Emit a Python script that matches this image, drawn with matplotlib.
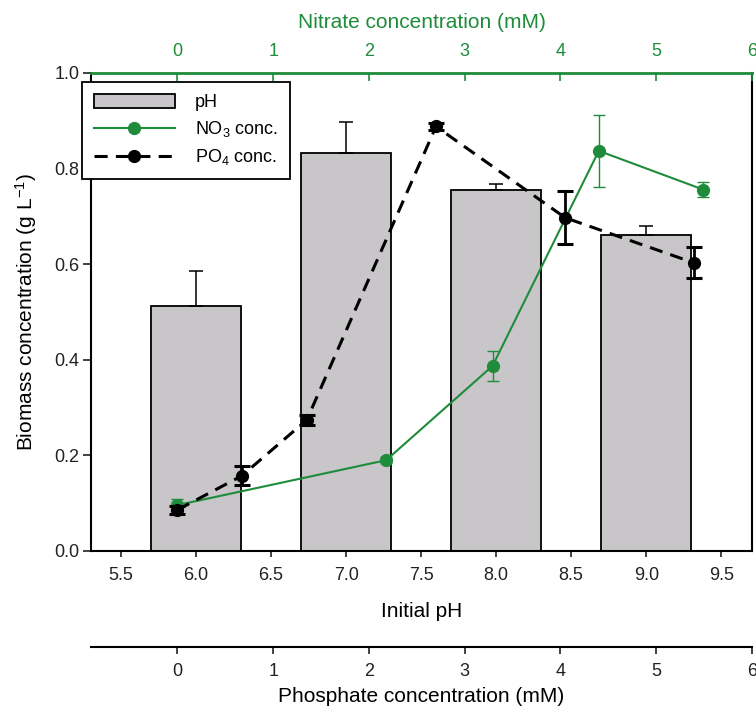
import numpy as np
import matplotlib
matplotlib.use('Agg')
import matplotlib.pyplot as plt
from matplotlib.patches import Patch
from matplotlib.lines import Line2D

plt.rcParams['font.family'] = ['Liberation Sans', 'DejaVu Sans']
plt.rcParams['mathtext.fontset'] = 'custom'
plt.rcParams['mathtext.rm'] = 'Liberation Sans'
plt.rcParams['mathtext.it'] = 'Liberation Sans'

## data
ph = [6.0, 7.0, 8.0, 9.0]
biomass_ph = [0.513, 0.832, 0.756, 0.660]
biomass_ph_err = [0.073, 0.066, 0.012, 0.019]

nitrate = [0.0, 2.18, 3.29, 4.40, 5.49]
biomass_no3 = [0.096, 0.190, 0.387, 0.837, 0.756]
biomass_no3_err = [0.012, 0.006, 0.031, 0.076, 0.015]

phosphate = [0.0, 0.67, 1.35, 2.70, 4.05, 5.39]
biomass_po4 = [0.086, 0.157, 0.274, 0.888, 0.697, 0.603]
biomass_po4_err = [0.009, 0.020, 0.010, 0.008, 0.055, 0.033]

green = '#1e8c3a'
grey = '#c8c6c8'
tick_fs = 13
label_fs = 15

fig = plt.figure(figsize=(7.56, 7.15), dpi=100)
ax = fig.add_axes([0.1204, 0.2294, 0.8743, 0.6686])

## pH bars
ax.bar(ph, biomass_ph, width=0.6, color=grey, edgecolor='black', linewidth=1.3, zorder=2)
ax.errorbar(ph, biomass_ph, yerr=[np.zeros(len(ph)), biomass_ph_err], fmt='none',
            ecolor='black', elinewidth=1.1, capsize=5, capthick=1.1, zorder=3)
ax.set_xlim(5.30, 9.705)
ax.set_ylim(0, 1.0)
ax.set_xticks(np.arange(5.5, 9.51, 0.5))
ax.set_xticklabels(['%.1f' % v for v in np.arange(5.5, 9.51, 0.5)])
ax.set_yticks(np.arange(0, 1.01, 0.2))
ax.set_yticklabels(['%.1f' % v for v in np.arange(0, 1.01, 0.2)])
ax.tick_params(axis='both', direction='out', width=1.2, labelsize=tick_fs, colors='#222222')
ax.tick_params(axis='y', length=5.5, pad=3)
ax.tick_params(axis='x', length=4.5, pad=7)
ax.spines['top'].set_visible(False)
ax.spines['right'].set_linewidth(1.5)
ax.spines['left'].set_linewidth(1.5)
ax.spines['bottom'].set_linewidth(1.5)
ax.set_xlabel('Initial pH', fontsize=label_fs, labelpad=13)
ax.set_ylabel('Biomass concentration (g L$^{-1}$)', fontsize=label_fs, labelpad=11)

## nitrate axis on top
axn = ax.twiny()
axn.set_xlim(-0.903, 6.0)
axn.set_xticks(range(0, 7))
for s in ['left', 'right', 'bottom']:
    axn.spines[s].set_visible(False)
axn.spines['top'].set_color(green)
axn.spines['top'].set_linewidth(2)
axn.tick_params(axis='x', direction='in', length=6, width=1.2, colors=green,
                labelsize=tick_fs, pad=9)
axn.set_xlabel('Nitrate concentration (mM)', color=green, fontsize=label_fs, labelpad=11)
axn.errorbar(nitrate, biomass_no3, yerr=biomass_no3_err, color=green, lw=1.5, marker='o',
             markersize=8.5, ecolor=green, elinewidth=1.0, capsize=4.6, capthick=1.0, zorder=4)

## phosphate axis below
axp = ax.twiny()
axp.set_xlim(-0.903, 6.0)
axp.set_xticks(range(0, 7))
axp.xaxis.set_ticks_position('bottom')
axp.xaxis.set_label_position('bottom')
axp.spines['bottom'].set_position(('outward', 69))
for s in ['left', 'right', 'top']:
    axp.spines[s].set_visible(False)
axp.spines['bottom'].set_linewidth(1.5)
axp.tick_params(axis='x', direction='out', length=5, width=1.2, labelsize=tick_fs,
                colors='#222222', pad=7)
axp.set_xlabel('Phosphate concentration (mM)', fontsize=label_fs, labelpad=5)
axp.errorbar(phosphate, biomass_po4, yerr=biomass_po4_err, color='black', lw=2.2,
             dashes=(4.3, 2.7), marker='o', markersize=8.5, ecolor='black', elinewidth=2.0,
             capsize=5.8, capthick=2.2, zorder=5)

## legend
handles = [Patch(facecolor=grey, edgecolor='black', linewidth=1.3),
           Line2D([], [], color=green, lw=1.5, marker='o', markersize=8.5),
           Line2D([], [], color='black', lw=2.2, dashes=(4.3, 2.7), marker='o', markersize=8.5)]
labels = ['pH', 'NO$_3$ conc.', 'PO$_4$ conc.']
leg = fig.legend(handles, labels, loc='upper left', bbox_to_anchor=(0.1085, 0.885),
                 bbox_transform=fig.transFigure, borderaxespad=0, fancybox=False,
                 edgecolor='black', framealpha=1, fontsize=13, handlelength=4.5,
                 handleheight=0.78, labelspacing=0.45, handletextpad=1.1, borderpad=0.65)
leg.get_frame().set_linewidth(1.3)

plt.savefig('out.png', dpi=100)
